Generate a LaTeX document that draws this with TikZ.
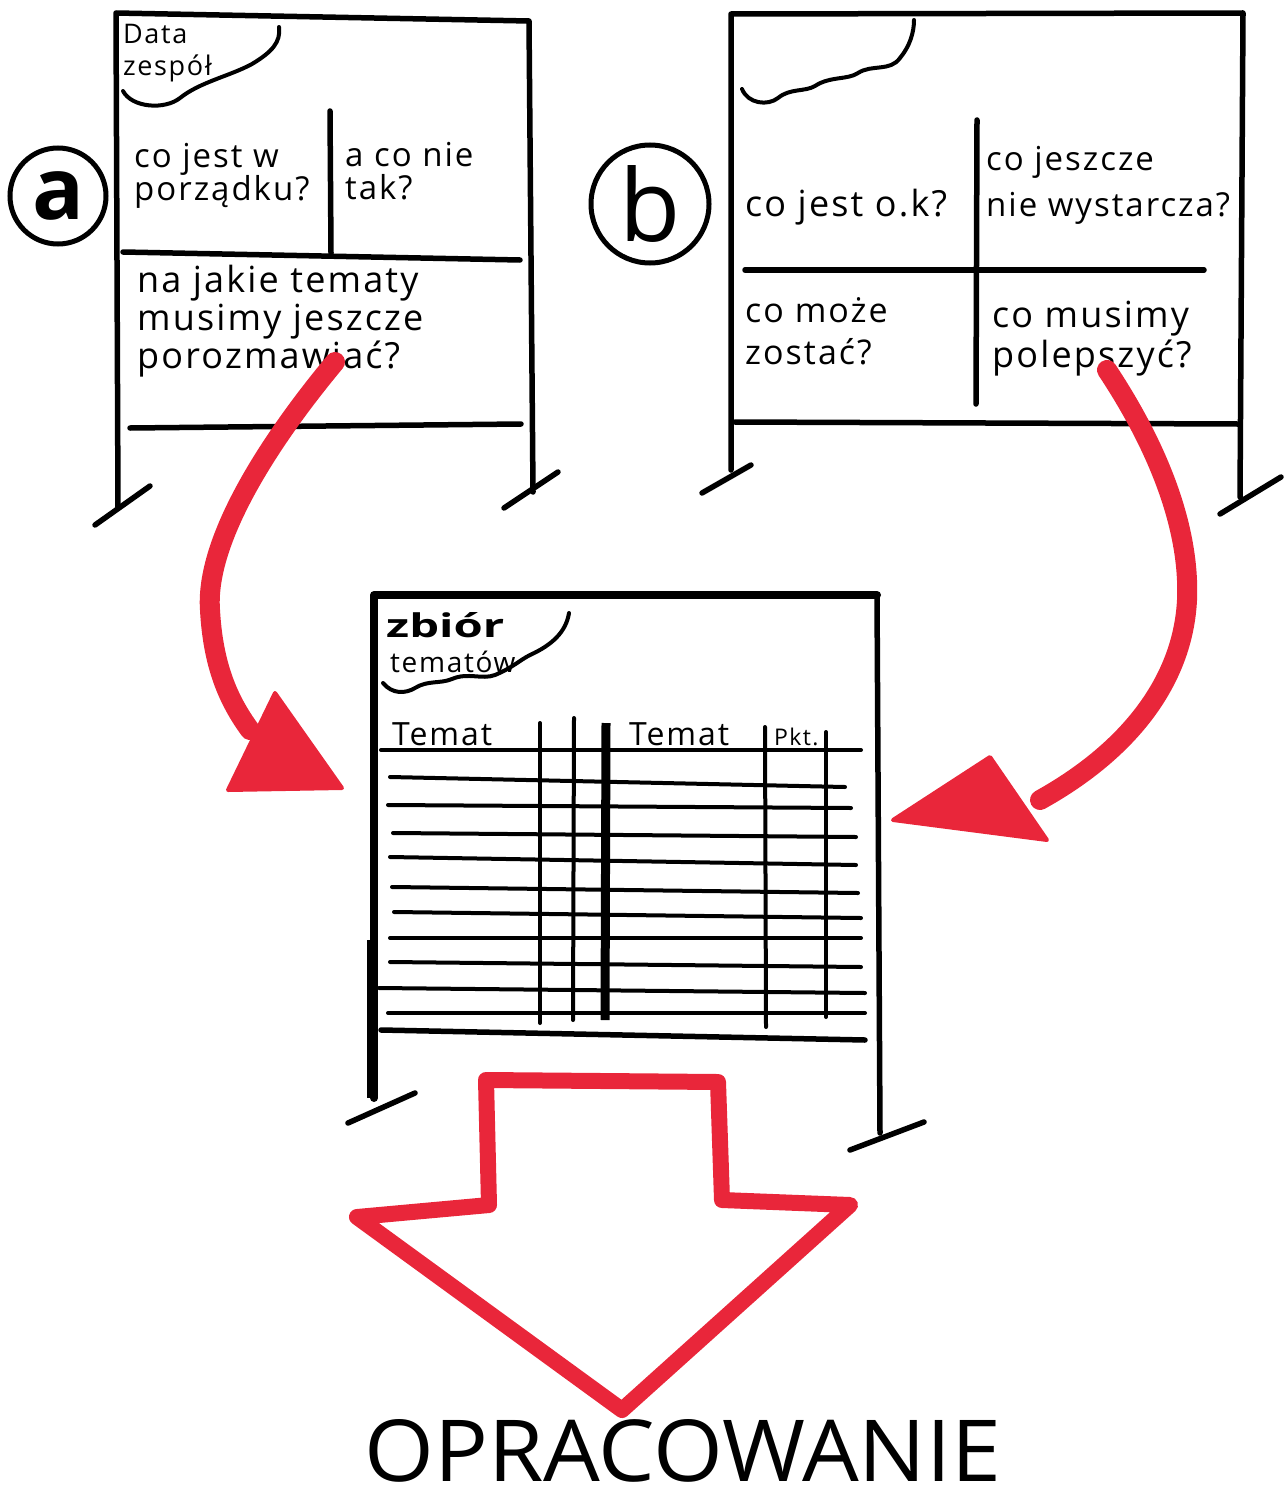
\documentclass[tikz,border=0pt]{standalone}
\usepackage{fontspec}
\usepackage{graphicx}
\newfontfamily\hand{Open Sans}[LetterSpace=6]
\newfontfamily\handplain{Open Sans}
\definecolor{redm}{RGB}{233,38,58}
\begin{document}
\begin{tikzpicture}[x=1pt,y=-1pt,
  ink/.style={line width=5.5pt, line cap=round, line join=round},
  inkthin/.style={line width=4pt, line cap=round, line join=round},
  inkbold/.style={line width=8pt, line cap=round, line join=round},
  redstroke/.style={draw=redm, line width=20pt, line cap=round},
  redhead/.style={fill=redm, draw=redm, line width=4pt, line join=round},
  txt/.style={font=\hand\fontsize{34}{34}\selectfont, align=left, inner sep=0pt, anchor=base west},
  smalltxt/.style={font=\hand\fontsize{27}{32}\selectfont, align=left, inner sep=0pt, anchor=base west},
  letter/.style={circle, draw, line width=5pt, inner sep=0pt}
]
\useasboundingbox (0,0) rectangle (1287,1501);

% ---------------- Board A ----------------
\draw[ink] (95,525) -- (150,486);
\draw[ink] (118,508) -- (116,13) -- (529,21) -- (533,492);
\draw[ink] (504,508) -- (558,472);
\draw[inkthin] (123,91) .. controls (132,108) and (165,110) .. (180,98)
  .. controls (200,82) and (230,76) .. (252,64) .. controls (272,52) and (281,42) .. (279,27);
\draw[ink] (330,111) -- (331,253);
\draw[ink] (123,252) -- (520,260);
\draw[ink] (130,428) -- (521,424);
% (base anchor = baseline of the last line)
\node[smalltxt] (dataA) at (123,76) {Data\\zespół};
\node[txt, font=\hand\fontsize{33}{33}\selectfont] (qa1) at (134,200) {co jest w\\porządku?};
\node[txt, font=\hand\fontsize{33}{33}\selectfont] (qa2) at (345,199) {a co nie\\tak?};
\node[txt, font=\hand\fontsize{36}{38}\selectfont] (qa3) at (137,368) {na jakie tematy\\musimy jeszcze\\porozmawiać?};
\node[letter, minimum size=96pt, font=\handplain\bfseries\fontsize{86}{86}\selectfont] (circA) at (58,196) {a};

% ---------------- Board B ----------------
\draw[ink] (702,493) -- (751,465);
\draw[ink] (731,470) -- (731,14) -- (1243,13) -- (1240,497);
\draw[ink] (1220,514) -- (1281,477);
\draw[inkthin] (742,89) .. controls (748,104) and (768,106) .. (778,98)
  .. controls (790,88) and (805,92) .. (815,86) .. controls (830,76) and (848,80) .. (858,73)
  .. controls (872,64) and (890,72) .. (900,58) .. controls (910,46) and (914,32) .. (914,20);
\draw[ink] (977,120) -- (976,404);
\draw[ink] (745,270) -- (1204,270);
\draw[ink] (735,422) -- (1238,424);
\node[txt, font=\hand\fontsize{36}{46}\selectfont] (qb1) at (745,216) {co jest o.k?};
\node[txt, font=\hand\fontsize{33}{46}\selectfont] (qb2) at (986,216) {co jeszcze\\nie wystarcza?};
\node[txt, font=\hand\fontsize{34}{42}\selectfont] (qb3) at (745,364) {co może\\zostać?};
\node[txt, font=\hand\fontsize{36}{40}\selectfont] (qb4) at (992,367) {co musimy\\polepszyć?};
\node[letter, minimum size=118pt, font=\handplain\fontsize{100}{100}\selectfont] (circB) at (650,204) {b};

% ---------------- Board C ----------------
\draw[inkbold] (374,1098) -- (374,595) -- (877,595);
\draw[line width=11pt] (372,940) -- (372,1098);
\draw[ink] (348,1123) -- (415,1093);
\draw[ink] (877,595) -- (880,1133);
\draw[ink] (850,1150) -- (924,1122);
\draw[inkthin] (383,683) .. controls (392,694) and (405,694) .. (415,688)
  .. controls (428,680) and (440,684) .. (452,679) .. controls (468,672) and (482,680) .. (495,675)
  .. controls (512,668) and (520,660) .. (530,655) .. controls (552,645) and (566,632) .. (569,613);
\node[inner sep=0pt, anchor=south west] (zbior) at (386,638) {\resizebox{118pt}{25pt}{\handplain\bfseries zbiór}};
\node[smalltxt, font=\hand\fontsize{28}{28}\selectfont] (tematow) at (390,672) {tematów};
\node[txt, font=\hand\fontsize{32}{32}\selectfont] (tem1) at (392,745) {Temat};
\node[txt, font=\hand\fontsize{32}{32}\selectfont] (tem2) at (629,745) {Temat};
\node[smalltxt, font=\hand\fontsize{23}{23}\selectfont] (pkt) at (774,745) {Pkt.};
% table
\draw[inkthin] (381,750) -- (861,750);
\draw[inkthin] (390,777) -- (845,787);
\draw[inkthin] (388,805) -- (851,808);
\draw[inkthin] (393,833) -- (856,837);
\draw[inkthin] (390,857) -- (856,865);
\draw[inkthin] (392,887) -- (858,893);
\draw[inkthin] (394,912) -- (861,918);
\draw[inkthin] (390,938) -- (861,938);
\draw[inkthin] (390,962) -- (861,967);
\draw[inkthin] (379,988) -- (865,993);
\draw[inkthin] (388,1013) -- (865,1013);
\draw[ink] (381,1030) -- (865,1040);
\draw[inkthin] (540,723) -- (540,1023);
\draw[inkthin] (574,718) -- (573,1020);
\draw[line width=9pt] (606,723) -- (605,1020);
\draw[inkthin] (765,727) -- (766,1027);
\draw[inkthin] (826,732) -- (826,1017);

% ---------------- red arrows ----------------
\coordinate (fromA) at (335,362);
\coordinate (toA) at (250,730);
\coordinate (fromB) at (1107,370);
\coordinate (toB) at (1040,800);
\draw[redstroke] (fromA) .. controls (270,440) and (205,540) .. (210,610)
  .. controls (213,665) and (228,700) .. (toA);
\draw[redhead] (275,693) -- (228,790) -- (342,788) -- cycle;
\draw[redstroke] (fromB) .. controls (1160,450) and (1190,530) .. (1187,600)
  .. controls (1183,680) and (1130,750) .. (toB);
\draw[redhead] (990,757) -- (893,820) -- (1047,840) -- cycle;

% big hollow arrow
\draw[draw=redm, line width=16pt, line join=round]
  (486,1080) -- (489,1205) -- (357,1217) -- (622,1410) -- (850,1205) -- (722,1200) -- (718,1082) -- cycle;

\node[inner sep=0pt] (opr) at (683,1451) {\resizebox{636pt}{62pt}{\handplain OPRACOWANIE}};
\end{tikzpicture}
\end{document}
